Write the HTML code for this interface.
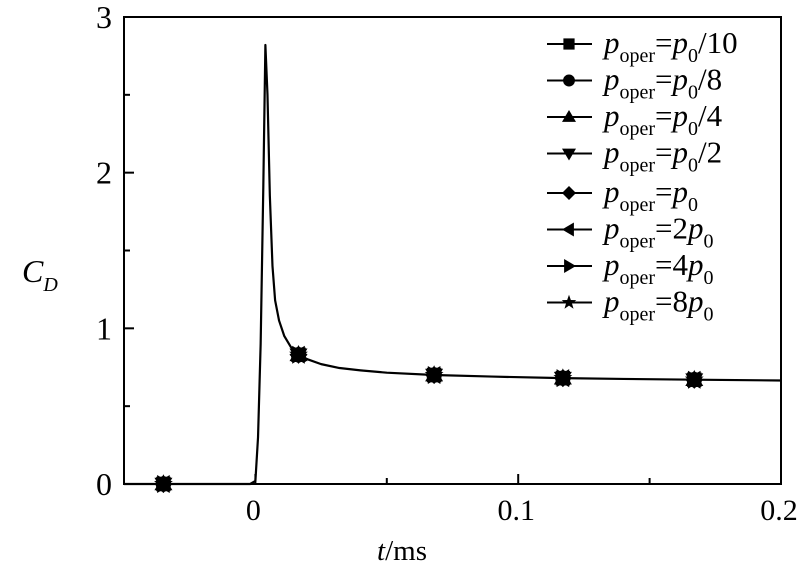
<!DOCTYPE html>
<html><head><meta charset="utf-8"><style>
body{margin:0;background:#fff;}
svg{display:block;font-family:"Liberation Serif",serif;}
</style></head><body>
<svg id="chart" width="800" height="570" viewBox="0 0 800 570">
<rect x="124" y="17" width="657" height="467" fill="none" stroke="#000" stroke-width="2"/>
<g id="ticks"></g>
<g id="curve"></g>
<g id="marks"></g>
<g id="legend"></g>
<text x="402" y="560" font-size="29" text-anchor="middle"><tspan font-style="italic">t</tspan>/ms</text>
<text x="22" y="282" font-size="32" font-style="italic">C<tspan font-size="20" dy="9">D</tspan></text>
</svg>
<script>
const curveT=[-0.05,-0.002,0,0.001,0.002,0.003,0.0038,0.0046,0.0055,0.0065,0.0075,0.009,0.011,0.0135,0.0164,0.02,0.025,0.032,0.04,0.05,0.068,0.09,0.117,0.14,0.167,0.2];
const curveV=[0,0,0.02,0.3,0.9,1.9,2.82,2.5,1.85,1.4,1.18,1.05,0.95,0.88,0.83,0.80,0.77,0.745,0.73,0.715,0.70,0.69,0.68,0.675,0.67,0.665];
const markT=[-0.035,0.0164,0.068,0.117,0.167];
const markV=[0,0.83,0.70,0.68,0.67];
const xTicks=[0,0.1,0.2];
const xTickLabels=["0","0.1","0.2"];
const xMinor=[0.05,0.15];
const yTicks=[0,1,2,3];
const yMinor=[0.5,1.5,2.5];
const seriesLabels=["/10","/8","/4","/2","","2","4","8"];
const seriesShapes=["square","circle","up","down","diamond","left","right","star"];
const NS="http://www.w3.org/2000/svg";
const X=t=>124+(t+0.05)/0.25*657;
const Y=v=>484-v*155.67;
function mk(tag,attrs,parent){const e=document.createElementNS(NS,tag);for(const k in attrs)e.setAttribute(k,attrs[k]);parent.appendChild(e);return e;}
const tk=document.getElementById('ticks');
xTicks.forEach((t,i)=>{
  const l=mk('line',{x1:X(t),x2:X(t),y1:484,y2:474,stroke:'#000','stroke-width':2},tk);
  
  
  const tx=mk('text',{x:X(t)-2,y:520,'font-size':30,'text-anchor':'middle'},tk);tx.textContent=xTickLabels[i];
  
  
});
xMinor.forEach(t=>{const l=mk('line',{x1:X(t),x2:X(t),y1:484,y2:478,stroke:'#000','stroke-width':2},tk);
  
  });
yTicks.forEach(v=>{
  const l=mk('line',{x1:124,x2:134,y1:Y(v),y2:Y(v),stroke:'#000','stroke-width':2},tk);
  
  
  const tx=mk('text',{x:104,y:Y(v)+11,'font-size':32,'text-anchor':'middle'},tk);tx.textContent=String(v);
  
  
});
yMinor.forEach(v=>{const l=mk('line',{x1:124,x2:130,y1:Y(v),y2:Y(v),stroke:'#000','stroke-width':2},tk);
  
  });
const cv=document.getElementById('curve');
const p=mk('polyline',{points:curveT.map((t,i)=>X(t)+','+Y(curveV[i])).join(' '),fill:'none',stroke:'#000','stroke-width':2.2,'stroke-linejoin':'round'},cv);


function shape(s,cx,cy,parent,r){
  r=r||7;let e;
  if(s==='square')e=mk('rect',{x:cx-r*0.8,y:cy-r*0.8,width:r*1.6,height:r*1.6},parent);
  else if(s==='circle')e=mk('circle',{cx:cx,cy:cy,r:r*0.85},parent);
  else{let pts;
    if(s==='up')pts=[[0,-r],[r,r*0.7],[-r,r*0.7]];
    else if(s==='down')pts=[[0,r],[r,-r*0.7],[-r,-r*0.7]];
    else if(s==='diamond')pts=[[0,-r],[r,0],[0,r],[-r,0]];
    else if(s==='left')pts=[[-r,0],[r*0.7,-r],[r*0.7,r]];
    else if(s==='right')pts=[[r,0],[-r*0.7,-r],[-r*0.7,r]];
    else{pts=[];for(let k=0;k<10;k++){const a=-Math.PI/2+k*Math.PI/5,rr=k%2?r*0.45:r*1.1;pts.push([rr*Math.cos(a),rr*Math.sin(a)]);}}
    e=mk('polygon',{points:pts.map(q=>(cx+q[0])+','+(cy+q[1])).join(' ')},parent);}
  e.setAttribute('fill','#000');return e;
}
const mg=document.getElementById('marks');
seriesShapes.forEach((s,si)=>{markT.forEach((t,i)=>{
  const e=shape(s,X(t),Y(markV[i]),mg,9);
  
  
});});
const lg=document.getElementById('legend');
seriesLabels.forEach((lab,i)=>{
  const y=44+i*36.5+(i>=4?3:0);
  const g=mk('g',{},lg);
  
  
  mk('line',{x1:547,x2:592,y1:y,y2:y,stroke:'#000','stroke-width':2},g);
  shape(seriesShapes[i],569,y,g,7);
  const tx=mk('text',{x:604,y:y+9,'font-size':31},g);
  const coef=(lab && !lab.startsWith('/'))?lab:'';
  const suf=lab.startsWith('/')?lab:'';
  tx.innerHTML='<tspan font-style="italic">p</tspan><tspan font-size="20" dy="9">oper</tspan><tspan dy="-9">='+coef+'</tspan><tspan font-style="italic">p</tspan><tspan font-size="20" dy="9">0</tspan><tspan dy="-9">'+suf+'</tspan>';
});
</script>
</body></html>
